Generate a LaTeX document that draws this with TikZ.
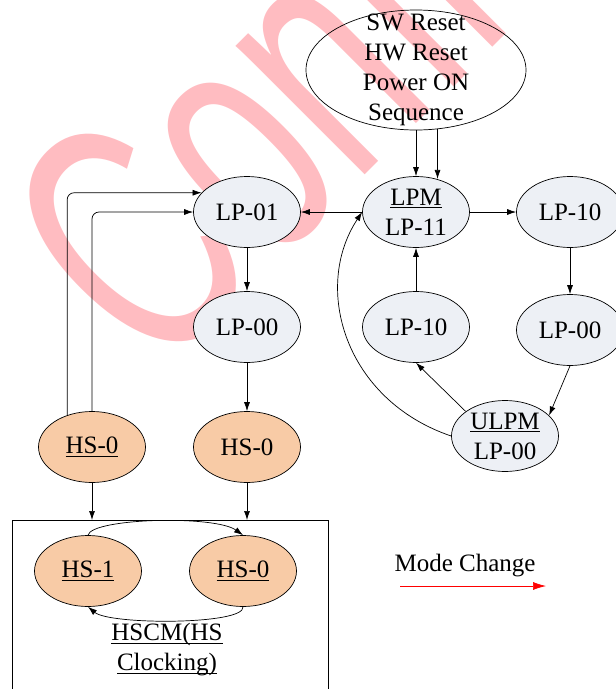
\documentclass[tikz,border=0pt]{standalone}
\usepackage{fontspec}
\setmainfont{Liberation Serif}
\newfontfamily\wmfont{Liberation Sans}
\usetikzlibrary{shapes.geometric,arrows.meta}
\definecolor{lpfill}{RGB}{237,240,245}
\definecolor{hsfill}{RGB}{248,203,166}
\definecolor{wmpink}{RGB}{255,188,193}
% underlined label text
\newcommand\ulx[1]{\setbox0\hbox{#1}\rlap{\rule[-3pt]{\wd0}{0.8pt}}\box0}

\begin{document}
\begin{tikzpicture}[x=1pt,y=-1pt,
  every node/.style={font=\fontsize{25}{30}\selectfont, inner sep=0pt},
  state/.style={ellipse, draw, line width=0.7pt, minimum width=107pt, minimum height=71pt},
  lpstate/.style={state, fill=lpfill},
  hsstate/.style={state, fill=hsfill},
  link/.style={line width=0.7pt, -{Latex[length=9pt,width=6pt]}},
]
\useasboundingbox (0,0) rectangle (616,689);
\clip (0,0) rectangle (616,689);

% watermark
\node[text=wmpink, rotate=45, anchor=base west,
      font=\wmfont\fontsize{345}{345}\selectfont] (wm) at (158,382) {\scalebox{0.63}[1]{Confidential}};

% reset sources
\node[ellipse, draw, line width=0.7pt, minimum width=220pt, minimum height=120pt] (reset) at (416,70) {};
\node[align=center] (resettext) at (416,70) {SW Reset\\HW Reset\\Power ON\\Sequence};

% low power states
\node[lpstate, align=center] (lpm) at (416,212) {\ulx{LPM}\\LP-11};
\node[lpstate] (lp01) at (247,212) {LP-01};
\node[lpstate] (lp00l) at (247,327) {LP-00};
\node[lpstate] (lp10r) at (570,212) {LP-10};
\node[lpstate] (lp00r) at (570,330) {LP-00};
\node[lpstate] (lp10m) at (416,327) {LP-10};
\node[lpstate, align=center] (ulpm) at (505,436) {\ulx{ULPM}\\LP-00};

% high speed states
\node[hsstate] (hs0l) at (92,447) {\ulx{HS-0}};
\node[hsstate] (hs0m) at (247,447) {HS-0};

% clocking box
\node[draw, line width=0.7pt, rectangle, minimum width=316pt, minimum height=190pt, anchor=north west] (box) at (11.5,520) {};
\node[hsstate] (hs1) at (88,571) {\ulx{HS-1}};
\node[hsstate] (hs0i) at (243,571) {\ulx{HS-0}};
\node[align=center] (hscm) at (167,650) {\ulx{HSCM(HS}\\\ulx{Clocking)}};

% legend
\node (mode) at (465,566) {Mode Change};
\coordinate (mstart) at (400,586);
\coordinate (mend) at (546,586);
\draw[red, line width=0.7pt, -{Latex[length=13pt,width=8pt]}] (mstart) -- (mend);

% transitions
\draw[link] (reset.south) -- (lpm.north);
\draw[link] (reset.-70) -- (reset.-70 |- lpm.58);
\draw[link] (lpm.west) -- (lp01.east);
\draw[link] (lpm.east) -- (lp10r.west);
\draw[link] (lp10r.south) -- (lp00r.north);
\draw[link] (lp00r.south) -- (ulpm.25);
\draw[link] (ulpm.148) -- (lp10m.south);
\draw[link] (lp10m.north) -- (lpm.south);
\draw[link] (ulpm.west) .. controls (345,400) and (312,288) .. (lpm.west);
\draw[link] (lp01.south) -- (lp00l.north);
\draw[link] (lp00l.south) -- (hs0m.north);
\draw[link, rounded corners=7pt] (hs0l.128) |- (lp01.157);
\draw[link, rounded corners=7pt] (hs0l.north) |- (lp01.west);
\draw[link] (hs0l.south) -- (hs0l.south |- box.north);
\draw[link] (hs0m.south) -- (hs0m.south |- box.north);
\draw[link] (hs1.north) .. controls (92,518) and (215,515) .. (hs0i.north);
\draw[link] (hs0i.south) .. controls (245,625) and (110,625) .. (hs1.south);
\end{tikzpicture}
\end{document}
